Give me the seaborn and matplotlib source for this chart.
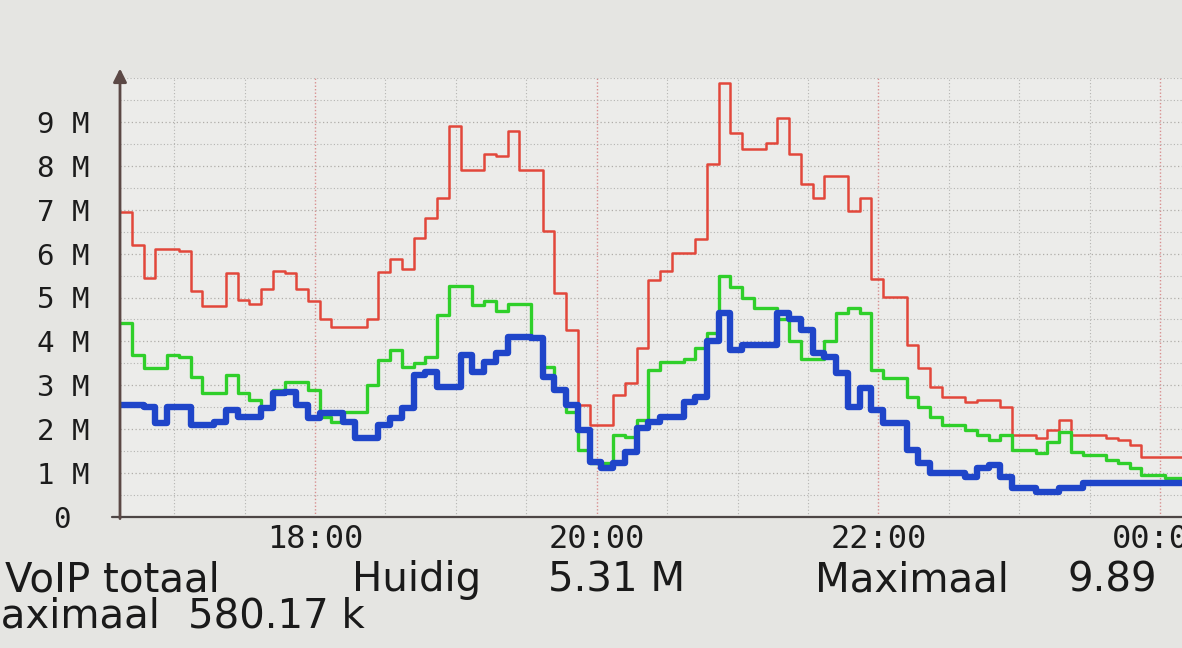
import numpy as np
import pandas as pd
import matplotlib
matplotlib.use("Agg")
import matplotlib.pyplot as plt
import seaborn as sns
from matplotlib.ticker import MultipleLocator, FixedLocator, FuncFormatter

# RRD-style VoIP traffic graph, 5 minute steps starting 16:37 (values in M)
start_hour = 16 + 37 / 60
step_minutes = 5

red_mbit = [6.95, 6.2, 5.45, 6.1, 6.1, 6.05, 5.15, 4.8, 4.8, 5.55,
            4.95, 4.85, 5.2, 5.6, 5.55, 5.2, 4.93, 4.52, 4.32, 4.32,
            4.32, 4.52, 5.57, 5.88, 5.66, 6.36, 6.8, 7.27, 8.9, 7.9,
            7.9, 8.27, 8.23, 8.8, 7.9, 7.9, 6.52, 5.11, 4.25, 2.55,
            2.09, 2.09, 2.77, 3.05, 3.84, 5.39, 5.61, 6.02, 6.02, 6.34,
            8.05, 9.89, 8.75, 8.39, 8.39, 8.52, 9.09, 8.27, 7.59, 7.27,
            7.77, 7.77, 6.98, 7.27, 5.43, 5.02, 5.02, 3.91, 3.39, 2.95,
            2.73, 2.73, 2.61, 2.66, 2.66, 2.5, 1.86, 1.86, 1.8, 1.98,
            2.2, 1.86, 1.86, 1.86, 1.8, 1.75, 1.64, 1.36, 1.36, 1.36, 1.36]

green_mbit = [4.41, 3.68, 3.39, 3.39, 3.68, 3.64, 3.18, 2.82, 2.82, 3.23,
              2.82, 2.66, 2.48, 2.89, 3.07, 3.07, 2.89, 2.27, 2.16, 2.39,
              2.39, 3.0, 3.57, 3.8, 3.41, 3.5, 3.64, 4.59, 5.27, 5.27,
              4.82, 4.93, 4.7, 4.86, 4.86, 4.07, 3.41, 2.89, 2.39, 1.52,
              1.23, 1.23, 1.86, 1.82, 2.2, 3.34, 3.52, 3.52, 3.61, 3.84,
              4.18, 5.5, 5.23, 4.98, 4.77, 4.77, 4.52, 4.02, 3.61, 3.61,
              4.02, 4.64, 4.75, 4.64, 3.34, 3.16, 3.16, 2.73, 2.5, 2.27,
              2.09, 2.09, 1.98, 1.86, 1.75, 1.86, 1.52, 1.52, 1.45, 1.7,
              1.93, 1.48, 1.41, 1.41, 1.3, 1.23, 1.11, 0.95, 0.95, 0.89, 0.89]

blue_mbit = [2.55, 2.55, 2.5, 2.14, 2.5, 2.5, 2.09, 2.09, 2.16, 2.43,
             2.27, 2.27, 2.48, 2.82, 2.84, 2.55, 2.25, 2.36, 2.36, 2.16,
             1.8, 1.8, 2.09, 2.25, 2.48, 3.23, 3.3, 2.95, 2.95, 3.68,
             3.3, 3.52, 3.73, 4.09, 4.09, 4.07, 3.18, 2.89, 2.55, 1.98,
             1.25, 1.11, 1.23, 1.48, 2.02, 2.16, 2.27, 2.27, 2.61, 2.73,
             4.02, 4.64, 3.8, 3.91, 3.91, 3.91, 4.64, 4.52, 4.25, 3.73,
             3.64, 3.27, 2.5, 2.93, 2.43, 2.14, 2.14, 1.52, 1.23, 1.0,
             1.0, 1.0, 0.91, 1.11, 1.18, 0.92, 0.66, 0.66, 0.57, 0.57,
             0.66, 0.66, 0.77, 0.77, 0.77, 0.77, 0.77, 0.77, 0.77, 0.77, 0.77]

y_ticks = list(range(10))
x_ticks = [18, 20, 22, 24]

sns.set_theme(style="white")
plt.rcParams["font.family"] = ["DejaVu Sans"]

fig = plt.figure(figsize=(11.82, 6.48), dpi=100, facecolor="#e5e5e2")
ax = fig.add_axes([120 / 1182, 1 - 517 / 648, 1 - 120 / 1182, (517 - 78) / 648])
ax.set_facecolor("#ececea")

n = len(red_mbit)
times = start_hour + np.arange(n + 1) * step_minutes / 60

series = [("totaal", red_mbit, "#e2473b", 1.8),
          ("in", green_mbit, "#2fcf2a", 2.4),
          ("uit", blue_mbit, "#1f45c9", 4.6)]
for name, vals, col, lw in series:
    df = pd.DataFrame({"tijd": times, "waarde": list(vals) + [vals[-1]]})
    sns.lineplot(data=df, x="tijd", y="waarde", ax=ax, color=col, linewidth=lw,
                 drawstyle="steps-post", estimator=None, zorder=3)

ax.set_xlim(16.615, 24.156)
ax.set_ylim(0, 10)

# grid like rrdtool: grey minor, reddish major verticals
ax.xaxis.set_major_locator(FixedLocator(x_ticks))
ax.xaxis.set_minor_locator(MultipleLocator(0.5))
ax.yaxis.set_major_locator(FixedLocator(y_ticks))
ax.yaxis.set_minor_locator(MultipleLocator(0.5))
ax.grid(which="minor", color="#b5b5b2", linestyle=(0, (1, 2)), linewidth=0.8)
ax.grid(which="major", axis="y", color="#b0adaa", linestyle=(0, (1, 2)), linewidth=0.9)
ax.grid(which="major", axis="x", color="#d89090", linestyle=(0, (1, 1.5)), linewidth=1.0)
ax.set_axisbelow(True)

ax.xaxis.set_major_formatter(FuncFormatter(lambda v, p: f"{int(round(v)) % 24:02d}:00"))
ax.yaxis.set_major_formatter(FuncFormatter(lambda v, p: "0 " if v == 0 else f"{int(v)} M"))
ax.tick_params(axis="both", which="both", length=0, colors="#1c1c1c")
ax.tick_params(axis="x", pad=5, labelsize=23)
ax.tick_params(axis="y", pad=22, labelsize=21)
for lab in ax.get_xticklabels() + ax.get_yticklabels():
    lab.set_fontfamily("DejaVu Sans Mono")
ax.set_xlabel("")
ax.set_ylabel("")
for s in ax.spines.values():
    s.set_visible(False)

# axes with arrow, rrdtool style
ax.plot([-0.008, 1], [0, 0], transform=ax.transAxes, color="#4d4645", lw=1.6, clip_on=False, zorder=4)
ax.annotate("", xy=(0, 1.028), xytext=(0, -0.01), xycoords="axes fraction",
            arrowprops=dict(arrowstyle="-|>", color="#5b4845", lw=2.0, mutation_scale=20), zorder=5)

# legend lines below the graph
txt = dict(fontsize=29, color="#1a1a1a", va="baseline")
fig.text(5 / 1182, 1 - 591 / 648, "VoIP totaal", ha="left", **txt)
fig.text(352 / 1182, 1 - 591 / 648, "Huidig", ha="left", **txt)
fig.text(548 / 1182, 1 - 591 / 648, "5.31 M", ha="left", **txt)
fig.text(815 / 1182, 1 - 591 / 648, "Maximaal", ha="left", **txt)
fig.text(1068 / 1182, 1 - 591 / 648, "9.89", ha="left", **txt)
fig.text(160 / 1182, 1 - 628 / 648, "Maximaal", ha="right", **txt)
fig.text(188 / 1182, 1 - 628 / 648, "580.17 k", ha="left", **txt)

fig.savefig("out.png", dpi=100, facecolor=fig.get_facecolor())
